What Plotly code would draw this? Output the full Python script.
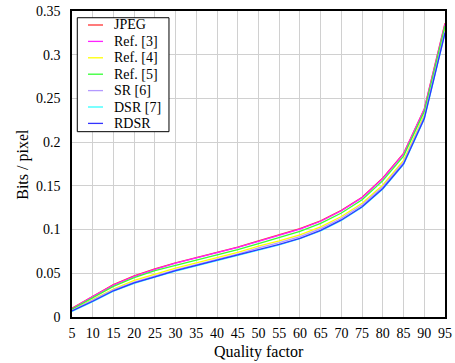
import plotly.graph_objects as go

quality = [5, 10, 15, 20, 25, 30, 35, 40, 45, 50, 55, 60, 65, 70, 75, 80, 85, 90, 95]
jpeg  = [0.010, 0.024, 0.037, 0.047, 0.055, 0.062, 0.068, 0.074, 0.080, 0.087, 0.094, 0.101, 0.110, 0.122, 0.137, 0.159, 0.187, 0.238, 0.336]
ref3  = [0.0095, 0.0235, 0.0365, 0.0465, 0.0545, 0.0615, 0.0675, 0.0735, 0.0795, 0.0865, 0.0935, 0.1005, 0.1095, 0.1215, 0.1365, 0.1585, 0.1865, 0.2375, 0.335]
ref4  = [0.008, 0.020, 0.032, 0.042, 0.049, 0.056, 0.062, 0.068, 0.074, 0.081, 0.087, 0.094, 0.103, 0.115, 0.130, 0.151, 0.179, 0.231, 0.330]
ref5  = [0.009, 0.022, 0.035, 0.045, 0.053, 0.059, 0.065, 0.071, 0.077, 0.084, 0.091, 0.098, 0.107, 0.119, 0.134, 0.156, 0.184, 0.235, 0.333]
sr6   = [0.0075, 0.019, 0.031, 0.040, 0.047, 0.054, 0.060, 0.066, 0.072, 0.079, 0.085, 0.092, 0.101, 0.113, 0.128, 0.149, 0.177, 0.229, 0.327]
dsr7  = [0.0065, 0.0175, 0.0295, 0.0385, 0.0455, 0.0525, 0.0585, 0.0645, 0.0705, 0.0765, 0.0825, 0.0895, 0.0985, 0.1105, 0.1255, 0.1465, 0.1745, 0.2265, 0.3245]
rdsr  = [0.007, 0.018, 0.030, 0.039, 0.046, 0.053, 0.059, 0.065, 0.071, 0.077, 0.083, 0.090, 0.099, 0.111, 0.126, 0.147, 0.175, 0.227, 0.325]

series = [
    ("JPEG", jpeg, "#ff3333"),
    ("Ref. [3]", ref3, "#ff22ff"),
    ("Ref. [4]", ref4, "#ffff00"),
    ("Ref. [5]", ref5, "#33ff33"),
    ("SR [6]", sr6, "#b399ff"),
    ("DSR [7]", dsr7, "#33ffff"),
    ("RDSR", rdsr, "#3333ff"),
]
x_title = "Quality factor"
y_title = "Bits / pixel"

font = "Liberation Serif"
fig = go.Figure()
for name, vals, col in series:
    fig.add_trace(go.Scatter(x=quality, y=vals, name=name, mode="lines",
                             line=dict(color=col, width=1.3), showlegend=False))

# compact legend box (plotly's built-in legend rows are taller than the reference)
shapes = [dict(type="rect", xref="paper", yref="paper", x0=0.0142, x1=0.26, y0=0.6056, y1=0.978,
               line=dict(color="black", width=1), fillcolor="white", layer="above")]
annotations = []
for i, (name, vals, col) in enumerate(series):
    py = 25 + 16.4 * i
    yp = (317 - py) / 306
    shapes.append(dict(type="line", xref="paper", yref="paper", x0=0.0429, x1=0.0831, y0=yp, y1=yp,
                       line=dict(color=col, width=1.3), layer="above"))
    annotations.append(dict(xref="paper", yref="paper", x=0.108, y=yp, text=name, showarrow=False,
                            xanchor="left", yanchor="middle", font=dict(family=font, size=14, color="black")))

annotations.append(dict(xref="paper", yref="paper", x=0.5, y=-0.1134, text=x_title, showarrow=False,
                        xanchor="center", yanchor="middle", font=dict(family=font, size=16, color="black")))
annotations.append(dict(xref="paper", yref="paper", x=-0.132, y=0.5, text=y_title, showarrow=False,
                        textangle=-90, xanchor="center", yanchor="middle",
                        font=dict(family=font, size=16, color="black")))

fig.update_layout(
    width=455, height=363,
    margin=dict(l=72, r=10, t=11, b=46),
    paper_bgcolor="white", plot_bgcolor="white",
    font=dict(family=font, size=13, color="black"),
    shapes=shapes, annotations=annotations,
    xaxis=dict(range=[5, 95], tickmode="array", tickvals=list(range(5, 100, 5)),
               showgrid=True, gridcolor="#d0d0d0", gridwidth=1,
               showline=True, linecolor="black", linewidth=1.5, mirror=True,
               ticks="", zeroline=False, ticklabelstandoff=2, automargin=False,
               tickfont=dict(family=font, size=14)),
    yaxis=dict(range=[0, 0.35], tickmode="array",
               tickvals=[0, 0.05, 0.1, 0.15, 0.2, 0.25, 0.3, 0.35],
               ticktext=["0", "0.05", "0.1", "0.15", "0.2", "0.25", "0.3", "0.35"],
               showgrid=True, gridcolor="#d0d0d0", gridwidth=1,
               showline=True, linecolor="black", linewidth=1.5, mirror=True,
               ticks="", zeroline=False, ticklabelstandoff=7, automargin=False,
               tickfont=dict(family=font, size=14)),
)
fig.write_html("out.html")
